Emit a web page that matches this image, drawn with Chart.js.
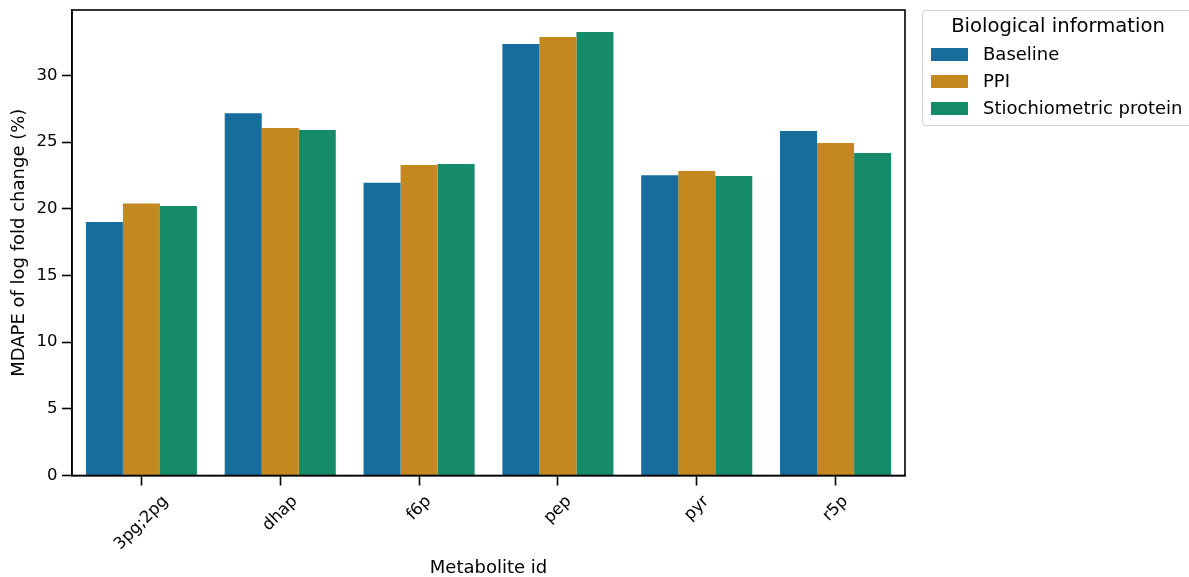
<!DOCTYPE html>
<html>
<head>
<meta charset="utf-8">
<script src="https://cdn.jsdelivr.net/npm/chart.js@4/dist/chart.umd.min.js"></script>
<style>
    html, body { margin: 0; padding: 0; background: #fff; }
    #wrap { position: relative; width: 1189px; height: 577px; overflow: hidden; }
    #legend {
        position: absolute; left: 922px; top: 10px; width: 272px; height: 116px;
        box-sizing: border-box; border: 1px solid #d0d0d0; border-radius: 4px;
        background: rgba(255,255,255,0.8); font-family: 'DejaVu Sans', sans-serif; color: #000;
    }
    #legend .title { position: absolute; left: 0; width: 100%; top: 3px; text-align: center; font-size: 19.6px; line-height: 24px; }
    #legend .item { position: absolute; left: 8px; height: 24px; font-size: 18px; line-height: 24px; white-space: nowrap; }
    #legend .swatch { position: absolute; left: 0; top: 6px; width: 37px; height: 12.5px; }
    #legend .label { position: absolute; left: 52px; top: 0; }
</style>
</head>
<body>
<div id="wrap">
    <canvas id="chart" width="1189" height="577"></canvas>
    <div id="legend"></div>
</div>
<script>
// Données
const metabolites = ['3pg;2pg', 'dhap', 'f6p', 'pep', 'pyr', 'r5p'];
const seriesNames = ['Baseline', 'PPI', 'Stiochiometric protein'];
const baseline = [19.0, 27.15, 21.95, 32.35, 22.52, 25.82];
const ppi = [20.4, 26.05, 23.28, 32.88, 22.82, 24.92];
const stoichio = [20.2, 25.9, 23.35, 33.25, 22.45, 24.17];
const yTicks = [0, 5, 10, 15, 20, 25, 30];

const colors = ['#176d9c', '#c38820', '#158b6a'];
const FONT = "'DejaVu Sans', sans-serif";

// Cadre complet autour de la zone de tracé + étiquettes x à 45° centrées
const framePlugin = {
    id: 'frame',
    afterDraw(chart) {
        const { ctx, chartArea: a, scales } = chart;
        ctx.save();
        ctx.strokeStyle = '#000';
        ctx.lineWidth = 1.6;
        ctx.strokeRect(a.left, a.top, a.right - a.left, a.bottom - a.top);

        ctx.font = '16.5px ' + FONT;
        ctx.fillStyle = '#000';
        ctx.textAlign = 'center';
        ctx.textBaseline = 'middle';
        const H = 16.5 * 1.17;
        metabolites.forEach((lab, i) => {
            const x = scales.x.getPixelForTick(i);
            const w = ctx.measureText(lab).width;
            const cy = 492 + (w + H) * Math.SQRT1_2 / 2;
            ctx.save();
            ctx.translate(x, cy);
            ctx.rotate(-Math.PI / 4);
            ctx.fillText(lab, 0, 0);
            ctx.restore();
        });
        ctx.restore();
    }
};

function noPad(s) {
    s.paddingTop = 0;
    s.paddingBottom = 0;
    s.paddingLeft = 0;
    s.paddingRight = 0;
}

const ctx = document.getElementById('chart').getContext('2d');
new Chart(ctx, {
    type: 'bar',
    data: {
        labels: metabolites,
        datasets: [baseline, ppi, stoichio].map((vals, k) => ({
            label: seriesNames[k],
            data: vals,
            backgroundColor: colors[k],
            borderWidth: 0,
            categoryPercentage: 0.8,
            barPercentage: 1.0
        }))
    },
    options: {
        responsive: false,
        animation: false,
        layout: { padding: { left: 0, right: 284, top: 10, bottom: 0 } },
        plugins: {
            legend: { display: false },
            tooltip: { enabled: false }
        },
        scales: {
            x: {
                afterFit: (s) => { s.height = 101.5; noPad(s); },
                grid: { offset: false, drawOnChartArea: false, drawTicks: true, tickLength: 10, tickColor: '#000', tickWidth: 1.6 },
                border: { display: true, color: '#000', width: 1.6 },
                ticks: { display: false },
                title: {
                    display: true,
                    text: 'Metabolite id',
                    color: '#000',
                    font: { family: FONT, size: 18 },
                    padding: { top: 0, bottom: -2 }
                }
            },
            y: {
                min: 0,
                max: 34.9,
                afterFit: (s) => { s.width = 72; noPad(s); },
                afterBuildTicks: (s) => { s.ticks = yTicks.map(v => ({ value: v })); },
                grid: { drawOnChartArea: false, drawTicks: true, tickLength: 10, tickColor: '#000', tickWidth: 1.6 },
                border: { display: true, color: '#000', width: 1.6 },
                ticks: {
                    color: '#000',
                    padding: 4.5,
                    font: { family: FONT, size: 16.5 }
                },
                title: {
                    display: true,
                    text: 'MDAPE of log fold change (%)',
                    color: '#000',
                    font: { family: FONT, size: 18 },
                    padding: { top: 9, bottom: 0 }
                }
            }
        }
    },
    plugins: [framePlugin]
});

// Légende
const legend = document.getElementById('legend');
legend.innerHTML = '<div class="title">Biological information</div>' +
    seriesNames.map((name, k) => `
        <div class="item" style="top:${31 + k * 27}px">
            <div class="swatch" style="background:${colors[k]}"></div>
            <div class="label">${name}</div>
        </div>`).join('');
</script>
</body>
</html>
